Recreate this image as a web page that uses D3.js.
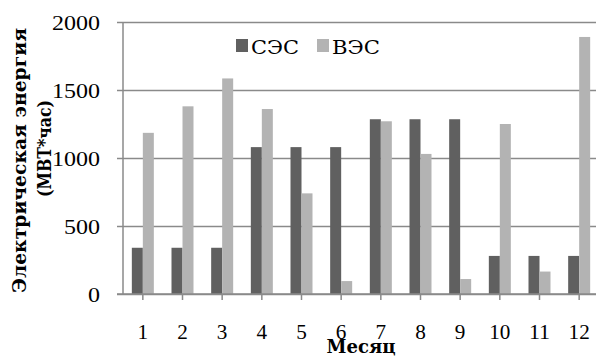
<!DOCTYPE html>
<html>
<head>
<meta charset="utf-8">
<script src="https://cdn.jsdelivr.net/npm/d3@7/dist/d3.min.js"></script>
<style>
  html, body { margin: 0; padding: 0; background: #fff; }
</style>
</head>
<body>
<svg id="chart" width="596" height="356"></svg>
<script>
// Monthly electricity output, MWh
const months = ["1", "2", "3", "4", "5", "6", "7", "8", "9", "10", "11", "12"];
const seriesNames = ["СЭС", "ВЭС"];
const sesValues = [340, 340, 340, 1080, 1080, 1080, 1285, 1285, 1285, 280, 280, 280];
const vesValues = [1185, 1380, 1585, 1360, 740, 95, 1270, 1030, 110, 1250, 165, 1890];
const yTicks = [0, 500, 1000, 1500, 2000];

const colors = { "СЭС": "#606060", "ВЭС": "#b3b3b3" };
const gridColor = "#8a8a8a";
const digitFont = "Liberation Serif";     // numerals
const cyrFont = "DejaVu Serif";           // Cyrillic labels

const svg = d3.select("#chart");
const margin = { left: 123, right: -3, top: 22, bottom: 62 };
const W = 596, H = 356;

const x = d3.scaleBand().domain(months).range([margin.left, W - margin.right]).padding(0);
const y = d3.scaleLinear().domain([0, 2000]).range([H - margin.bottom, margin.top]);

const barW = 11;
const sub = d3.scaleBand().domain(seriesNames).range([-barW, barW]).padding(0);

// horizontal gridlines with short outward ticks
const yAxis = d3.axisLeft(y).tickValues(yTicks).tickFormat(d3.format("d"))
  .tickSize(-(W - margin.left)).tickPadding(23);
const gy = svg.append("g").attr("transform", `translate(${margin.left},0)`).call(yAxis)
  .attr("font-family", digitFont);
gy.select(".domain").remove();
gy.selectAll(".tick line").attr("x1", -6).attr("stroke", gridColor).attr("stroke-width", 1.5);
gy.selectAll(".tick text").attr("font-size", 20).attr("fill", "#000")
  .attr("dy", "0.36em")
  .attr("textLength", d => String(d).length * 12).attr("lengthAdjust", "spacingAndGlyphs");

// vertical axis line
svg.append("line")
  .attr("x1", margin.left).attr("x2", margin.left)
  .attr("y1", y(2000)).attr("y2", y(0))
  .attr("stroke", gridColor).attr("stroke-width", 1.5);

// bars
const rows = months.map((m, i) => ({ month: m, values: [
  { key: "СЭС", value: sesValues[i] },
  { key: "ВЭС", value: vesValues[i] }
]}));

const groups = svg.append("g").selectAll("g").data(rows).join("g")
  .attr("transform", d => `translate(${x(d.month) + x.bandwidth() / 2},0)`);
groups.selectAll("rect").data(d => d.values).join("rect")
  .attr("x", d => sub(d.key))
  .attr("width", sub.bandwidth())
  .attr("y", d => y(d.value))
  .attr("height", d => y(0) - y(d.value))
  .attr("fill", d => colors[d.key]);

// category axis
const xAxis = d3.axisBottom(x).tickSizeOuter(0).tickSize(6);
const gx = svg.append("g").attr("transform", `translate(0,${y(0)})`).call(xAxis)
  .attr("font-family", digitFont);
gx.select(".domain").remove();
gx.selectAll(".tick line").attr("stroke", gridColor).attr("stroke-width", 1.5);
gx.selectAll(".tick text").attr("font-size", 20).attr("fill", "#000")
  .attr("y", 45).attr("dy", 0)
  .attr("textLength", d => d.length * 10.6).attr("lengthAdjust", "spacingAndGlyphs");
svg.append("line")
  .attr("x1", margin.left - 6).attr("x2", W)
  .attr("y1", y(0)).attr("y2", y(0))
  .attr("stroke", gridColor).attr("stroke-width", 1.5);

// legend
const legend = svg.append("g");
const legendX = [236, 317];
seriesNames.forEach((name, i) => {
  const g = legend.append("g").attr("transform", `translate(${legendX[i]},39)`);
  g.append("rect").attr("width", 12).attr("height", 13).attr("fill", colors[name]);
  g.append("text").attr("x", 15).attr("y", 15).attr("font-size", 18)
    .attr("font-family", cyrFont).attr("fill", "#000")
    .attr("textLength", 48).attr("lengthAdjust", "spacingAndGlyphs")
    .text(name);
});

// axis titles
const yTitle = svg.append("g").attr("transform", "rotate(-90)")
  .attr("font-family", cyrFont).attr("font-weight", "bold").attr("font-size", 18)
  .attr("fill", "#000").attr("text-anchor", "middle");
yTitle.append("text").attr("x", -160.5).attr("y", 26)
  .attr("textLength", 265).attr("lengthAdjust", "spacingAndGlyphs")
  .text("Электрическая энергия");
yTitle.append("text").attr("x", -148.5).attr("y", 51)
  .attr("textLength", 97).attr("lengthAdjust", "spacingAndGlyphs")
  .text("(МВТ*час)");

svg.append("text")
  .attr("x", (margin.left + W - margin.right) / 2).attr("y", 353)
  .attr("text-anchor", "middle").attr("font-weight", "bold").attr("font-size", 18)
  .attr("font-family", cyrFont).attr("fill", "#000")
  .attr("textLength", 69).attr("lengthAdjust", "spacingAndGlyphs")
  .text("Месяц");
</script>
</body>
</html>
